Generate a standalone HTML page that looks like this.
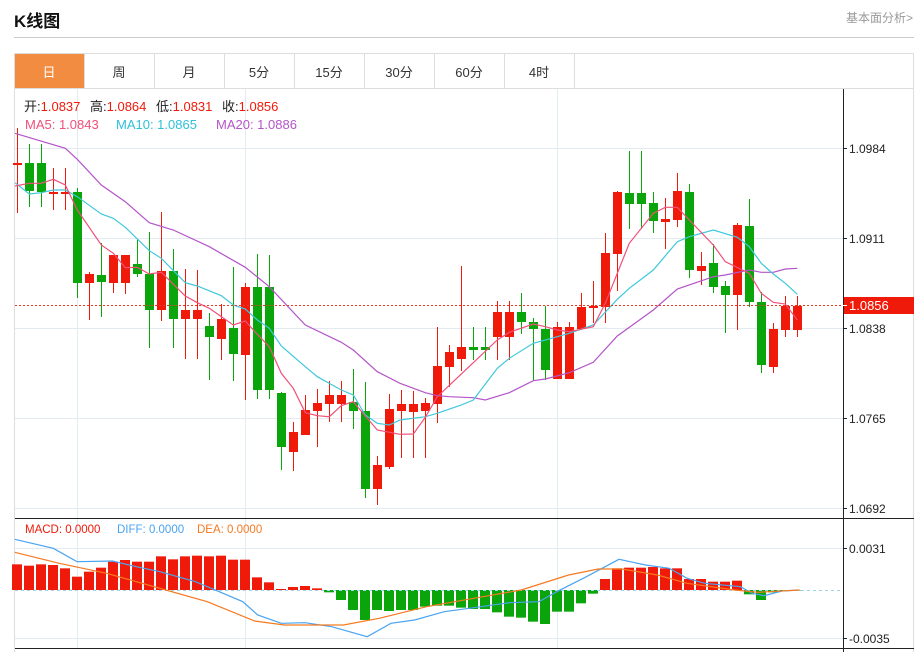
<!DOCTYPE html>
<html><head><meta charset="utf-8"><style>
body{margin:0;width:924px;height:652px;background:#fff;font-family:"Liberation Sans","Noto Sans CJK SC",sans-serif;position:relative;overflow:hidden}
.t{position:absolute}
</style></head><body>
<div class="t" style="left:14px;top:7px;font-size:17px;font-weight:bold;color:#111">K线图</div>
<div class="t" style="left:846px;top:9px;font-size:12px;color:#999">基本面分析&gt;</div>
<div class="t" style="left:14px;top:37px;width:900px;height:1px;background:#ccc"></div>
<svg id="s" class="t" style="left:0;top:0" width="924" height="652" xmlns="http://www.w3.org/2000/svg"></svg>
<script>
var s=document.getElementById('s'),h='';
function L(x1,y1,x2,y2,c,w,d){h+='<line x1="'+x1+'" y1="'+y1+'" x2="'+x2+'" y2="'+y2+'" stroke="'+c+'" stroke-width="'+(w||1)+'"'+(d?' stroke-dasharray="'+d+'"':'')+'/>';}
function R(x,y,w,hh,c,st){h+='<rect x="'+x+'" y="'+y+'" width="'+w+'" height="'+hh+'" fill="'+c+'"'+(st?' stroke="'+st+'"':'')+'/>';}
function T(x,y,t,c,fs,anc){h+='<text x="'+x+'" y="'+y+'" fill="'+c+'" font-size="'+fs+'"'+(anc?' text-anchor="'+anc+'"':'')+' font-family="Liberation Sans, Noto Sans CJK SC, sans-serif">'+t+'</text>';}
// tabs
R(14.5,53.5,899,35,'#fff','#ddd');
var tabs=['日','周','月','5分','15分','30分','60分','4时'];
for(var i=0;i<8;i++){var x=14+i*70;if(i==0)R(15,54,69,34,'#f18c40');else L(x+.5,54,x+.5,88,'#ddd');T(x+35,77,tabs[i],i==0?'#fff':'#333',13,'middle');}
L(574.5,54,574.5,88,'#ddd');
// chart frame
L(14.5,89,14.5,652,'#ddd');L(913.5,89,913.5,652,'#ddd');
// grid
[148,238,328,418,508].forEach(function(y){L(15,y+.5,843,y+.5,'#e3ebf2');});
[548,638].forEach(function(y){L(15,y+.5,843,y+.5,'#e3ebf2');});
[77,245,557].forEach(function(x){L(x+.5,89,x+.5,648,'#e3ebf2');});
// candles: [top body, bottom body, high, low, color]
var C=[[163,164,128,213,'r'],[163,191,144,207,'g'],[163,192,144,207,'g'],[192,194,168,210,'r'],[192,194,168,210,'r'],[192,283,188,298,'g'],[274,283,272,320,'r'],[275,282,243,317,'g'],[255,283,255,293,'r'],[255,283,255,294,'r'],[264,274,239,277,'g'],[274,310,232,348,'g'],[271,310,212,321,'r'],[271,319,249,348,'g'],[310,319,269,359,'r'],[310,319,270,359,'r'],[326,337,313,380,'g'],[319,339,304,360,'r'],[328,354,267,381,'g'],[287,355,283,400,'r'],[287,390,254,399,'g'],[287,390,255,399,'g'],[393,447,392,470,'g'],[432,452,422,471,'r'],[410,435,395,435,'r'],[403,411,389,447,'r'],[395,404,381,422,'r'],[395,404,381,422,'r'],[402,411,369,429,'g'],[411,489,382,498,'g'],[465,489,456,505,'r'],[409,467,394,469,'r'],[404,411,390,458,'r'],[404,412,391,458,'r'],[403,411,398,458,'r'],[366,404,327,423,'r'],[352,367,345,387,'r'],[347,359,266,371,'r'],[347,350,327,360,'g'],[347,350,327,360,'g'],[312,337,301,360,'r'],[312,337,301,360,'r'],[312,322,293,334,'g'],[322,329,318,380,'g'],[329,370,306,380,'g'],[327,379,322,379,'r'],[327,379,322,379,'r'],[307,329,293,329,'r'],[306,308,281,323,'r'],[253,307,233,323,'r'],[192,254,191,291,'r'],[193,204,151,229,'g'],[193,204,151,229,'g'],[203,221,192,233,'g'],[219,222,198,249,'r'],[191,220,173,227,'r'],[192,270,184,278,'g'],[266,271,252,285,'r'],[263,287,244,293,'g'],[286,295,281,333,'g'],[225,295,223,330,'r'],[226,302,199,307,'g'],[302,365,292,373,'g'],[329,367,323,373,'r'],[306,330,296,337,'r'],[306,330,296,337,'r']];
C.forEach(function(c,i){var x=17+12*i,col=c[4]=='r'?'#f01a0a':'#0aa50a';L(x+.5,c[2],x+.5,c[3],col);R(x-4,c[0],9,Math.max(2,c[1]-c[0]),col);});
function P(pts,c,fx,fy){var d=pts.map(function(p){return fx(p[0]).toFixed(1)+','+fy(p[1]).toFixed(1);}).join(' ');h+='<polyline points="'+d+'" fill="none" stroke="'+c+'" stroke-width="1.2"/>';}
function two(a,b){return a.map(function(p){return [p[0]/3,p[1]]}).concat(b.map(function(p){return [400+p[0]/3,p[1]]}));}
var fy=function(y){return 130+y/3},id=function(x){return x};
P(two([[45,10],[196,55],[232,88],[304,165],[376,215],[448,278],[520,300],[628,350],[736,412],[808,470],[916,585],[1024,637],[1060,660],[1132,725],[1200,760]],[[76,788],[112,797],[148,800],[220,803],[256,810],[328,788],[400,752],[436,747],[508,728],[580,697],[652,618],[760,540],[832,477],[940,440],[976,435],[1048,420],[1084,427],[1120,427],[1156,417],[1192,415]]),'#b455c8',id,fy);
P(two([[45,158],[88,192],[124,188],[160,180],[196,180],[232,200],[304,252],[340,265],[376,292],[448,362],[484,385],[556,458],[592,468],[664,497],[700,525],[736,537],[772,570],[808,595],[844,648],[916,710],[952,740],[1024,780],[1060,795],[1096,855],[1132,880],[1168,885],[1200,870]],[[76,860],[112,850],[184,825],[220,810],[292,715],[328,685],[400,640],[472,620],[508,610],[580,585],[652,508],[688,475],[760,420],[832,335],[868,320],[940,300],[1012,322],[1048,350],[1084,400],[1120,432],[1156,460],[1192,493]]),'#3fc8dc',id,fy);
P(two([[45,168],[88,160],[124,160],[160,148],[196,165],[232,240],[304,345],[340,370],[376,413],[412,412],[448,432],[484,427],[556,498],[592,518],[628,535],[700,585],[736,573],[772,613],[808,650],[844,730],[880,775],[916,848],[952,857],[988,860],[1024,827],[1060,815],[1096,858],[1132,900],[1200,913]],[[40,912],[76,862],[112,800],[292,630],[328,607],[400,582],[436,590],[472,600],[508,605],[580,590],[616,520],[652,430],[688,340],[760,250],[796,232],[832,232],[868,270],[940,345],[976,395],[1048,430],[1084,490],[1120,517],[1156,522],[1192,570]]),'#f0507a',id,fy);
// price line
L(15,305.5,843,305.5,'#e83a2a',1,'2,2');
// MACD
var M=[148,152,148,150,160,185,170,158,140,135,140,140,124,133,124,122,124,122,134,134,187,202,222,216,213,220,-232,-255,-285,-315,-285,-288,-285,-285,-275,-272,-272,-278,-282,-282,-292,-305,-308,-320,-327,-290,-290,-265,-236,192,160,158,158,156,160,160,192,192,200,200,197,-238,-255,-232,-228,-226];
M.forEach(function(v,i){var x=17+12*i,g=v<0,y=515+Math.abs(v)/3;var col=g?'#0aa50a':'#f01a0a';if(g)R(x-5,590,10,Math.max(0.5,y-590),col);else R(x-5,y,10,Math.max(0.5,590-y),col);});
L(15,590.5,843,590.5,'#9fd4ea',1,'3,3');
var fx2=function(x){return x*0.5923},fy2=function(y){return 515+y/3};
P([[25,73],[90,100],[130,140],[190,138],[230,155],[270,170],[330,200],[370,230],[410,260],[435,300],[475,325],[515,323],[560,335],[620,365],[660,325],[700,315],[750,290],[800,278],[860,263],[910,260],[940,230],[990,185],[1045,133],[1090,150],[1130,160],[1160,190],[1190,205],[1250,215],[1270,235],[1290,242],[1320,228],[1350,225]],'#4aa3f0',fx2,fy2);
P([[25,112],[100,145],[180,175],[280,225],[350,260],[430,318],[480,330],[580,330],[640,310],[720,275],[800,250],[880,225],[960,180],[1010,162],[1050,162],[1110,180],[1160,205],[1240,225],[1280,232],[1350,225]],'#f57a20',fx2,fy2);
// axes
L(843.5,89,843.5,652,'#222');L(15,518.5,914,518.5,'#222');L(15,648.5,914,648.5,'#222');
[[148,'1.0984'],[238,'1.0911'],[328,'1.0838'],[418,'1.0765'],[508,'1.0692'],[548,'0.0031'],[638,'-0.0035']].forEach(function(a){L(843,a[0]+.5,847,a[0]+.5,'#222');T(849,a[0]+5,a[1],'#222',12);});
R(844,297,70,17,'#f01a0a');L(843,305.5,847,305.5,'#fff');T(849,310,'1.0856','#fff',13);
// legends
T(24,111,'<tspan fill="#222">开:</tspan>1.0837 <tspan fill="#222" dx="6">高:</tspan>1.0864 <tspan fill="#222" dx="6">低:</tspan>1.0831 <tspan fill="#222" dx="6">收:</tspan>1.0856','#f01a0a',13);
T(25,129,'MA5: 1.0843','#f0507a',13);T(116,129,'MA10: 1.0865','#30c0d8',13);T(216,129,'MA20: 1.0886','#b455c8',13);
T(25,533,'MACD: 0.0000','#f01a0a',11.5);T(117,533,'DIFF: 0.0000','#4aa3f0',11.5);T(197,533,'DEA: 0.0000','#f57a20',11.5);
s.innerHTML=h;
</script>
</body></html>
